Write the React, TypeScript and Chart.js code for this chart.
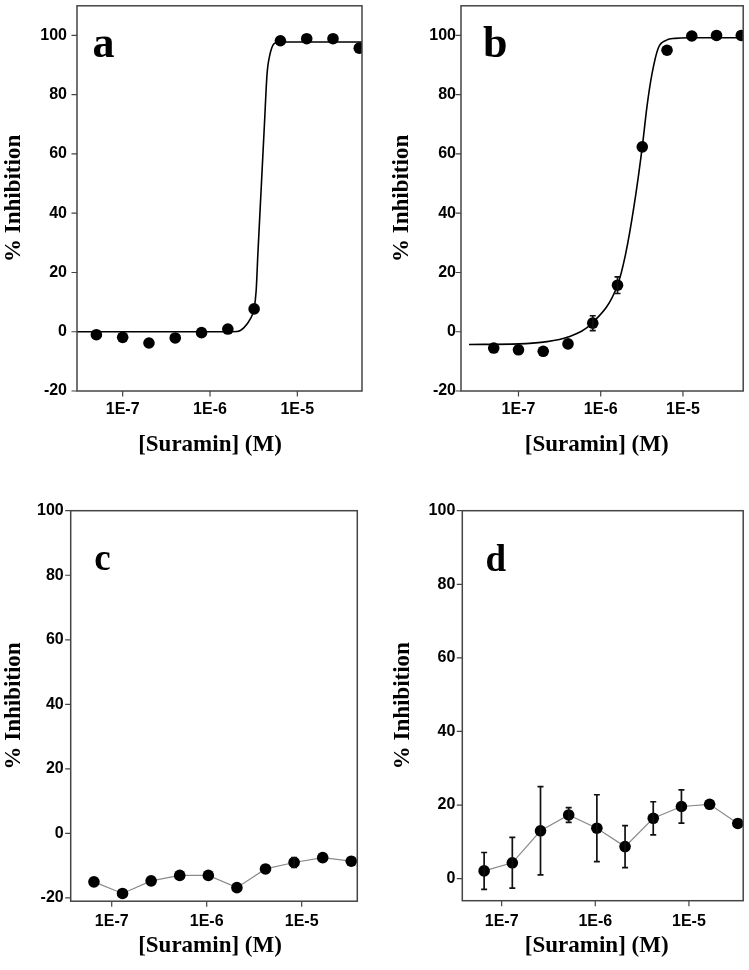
import React, { useEffect, useRef } from 'react';
import { Chart, registerables } from 'chart.js';

Chart.register(...registerables);

// ---------- data ----------
const CONC_AB = [5e-8, 1e-7, 2e-7, 4e-7, 8e-7, 1.6e-6, 3.2e-6, 6.4e-6, 1.28e-5, 2.56e-5, 5.12e-5];
const INHIB_A = [-1.0, -1.9, -3.8, -2.1, -0.3, 0.9, 7.7, 98.2, 98.9, 98.9, 95.7];
const ERR_A = [0, 0, 0, 0, 0, 0, 0, 0, 0, 0, 0];
const FIT_A_X = [3e-8, 1e-6, 2.05e-6, 2.45e-6, 2.85e-6, 3.2e-6, 3.38e-6, 3.53e-6, 3.85e-6, 4.2e-6, 4.5e-6, 4.85e-6, 5.4e-6, 6.1e-6, 5.5e-5];
const FIT_A_Y = [0, 0, 0.1, 1.4, 4, 7.9, 14, 26, 48, 70, 87, 93.5, 97.2, 97.8, 97.8];

const INHIB_B = [-5.5, -6.1, -6.6, -4.1, 2.9, 15.7, 62.4, 95.0, 99.8, 100, 100];
const ERR_B = [0, 0, 0, 0, 2.5, 2.8, 0, 0, 0, 0, 0];
const FIT_B_X = [2.5e-8, 1e-7, 2e-7, 4e-7, 8e-7, 1.6e-6, 2.0e-6, 2.55e-6, 3.2e-6, 3.65e-6, 4.2e-6, 5.0e-6, 6.3e-6, 8e-6, 1.2e-5, 5.4e-5];
const FIT_B_Y = [-4.3, -4.1, -3.5, -1.8, 3.1, 15.7, 26, 42.7, 62.4, 76, 87, 95.7, 98.4, 99, 99.2, 99.2];

const CONC_CD = [6.5e-8, 1.3e-7, 2.6e-7, 5.2e-7, 1.04e-6, 2.08e-6, 4.16e-6, 8.32e-6, 1.664e-5, 3.328e-5];
const INHIB_C = [-15.0, -18.6, -14.7, -13.0, -13.0, -16.8, -11.0, -9.0, -7.5, -8.6];
const ERR_C = [0, 0, 0, 0, 0, 0, 0, 1.5, 0, 0];
const INHIB_D = [2.1, 4.3, 13.0, 17.3, 13.7, 8.7, 16.4, 19.6, 20.2, 15.0];
const ERR_D = [5.0, 6.9, 12.0, 2.0, 9.1, 5.7, 4.5, 4.5, 0, 0];

const X_MAJOR = [1e-7, 1e-6, 1e-5];
const X_TICK_LABELS = ['1E-7', '1E-6', '1E-5'];
const Y_MAJOR = [-20, 0, 20, 40, 60, 80, 100];
const Y_TICK_LABELS = ['-20', '0', '20', '40', '60', '80', '100'];

const X_TITLE = '[Suramin] (M)';
const Y_TITLE = '% Inhibition';
const PANEL_LETTERS = ['a', 'b', 'c', 'd'];

// ---------- layout / style ----------
type Panel = {
  letter: string;
  x: number[];
  y: number[];
  err: number[];
  fitX?: number[];
  fitY?: number[];
  connect: boolean;
  xMin: number; xMax: number; yMin: number; yMax: number;
  left: number; top: number; W: number; H: number;
  area: { left: number; top: number; right: number; bottom: number };
  xTickPad: number; yTickPad: number; tickSize: number;
  yTitleBase: number; xTitleCx: number; xTitleBase: number;
  letterCx: number; letterBase: number; letterSize: number;
};

const PANELS: Panel[] = [
  {
    letter: PANEL_LETTERS[0], x: CONC_AB, y: INHIB_A, err: ERR_A, fitX: FIT_A_X, fitY: FIT_A_Y, connect: false,
    xMin: 3e-8, xMax: 5.5e-5, yMin: -20, yMax: 110,
    left: 0, top: 0, W: 375, H: 470,
    area: { left: 77, top: 2, right: 362, bottom: 391 },
    xTickPad: 9, yTickPad: 10, tickSize: 16,
    yTitleBase: 19.5, xTitleCx: 210, xTitleBase: 451,
    letterCx: 103.5, letterBase: 57, letterSize: 44,
  },
  {
    letter: PANEL_LETTERS[1], x: CONC_AB, y: INHIB_B, err: ERR_B, fitX: FIT_B_X, fitY: FIT_B_Y, connect: false,
    xMin: 2e-8, xMax: 5.4e-5, yMin: -20, yMax: 110,
    left: 375, top: 0, W: 374, H: 470,
    area: { left: 86, top: 2, right: 371.7, bottom: 391 },
    xTickPad: 9, yTickPad: 5, tickSize: 16,
    yTitleBase: 33, xTitleCx: 221.7, xTitleBase: 451,
    letterCx: 120.3, letterBase: 57, letterSize: 44,
  },
  {
    letter: PANEL_LETTERS[2], x: CONC_CD, y: INHIB_C, err: ERR_C, connect: true,
    xMin: 3.7e-8, xMax: 3.85e-5, yMin: -21, yMax: 100,
    left: 0, top: 470, W: 375, H: 500,
    area: { left: 70.7, top: 40.7, right: 357.3, bottom: 431.2 },
    xTickPad: 11, yTickPad: 7, tickSize: 16,
    yTitleBase: 19.5, xTitleCx: 210, xTitleBase: 482,
    letterCx: 102.5, letterBase: 100, letterSize: 37,
  },
  {
    letter: PANEL_LETTERS[3], x: CONC_CD, y: INHIB_D, err: ERR_D, connect: true,
    xMin: 3.8e-8, xMax: 3.8e-5, yMin: -6, yMax: 100,
    left: 375, top: 470, W: 374, H: 500,
    area: { left: 87.3, top: 40.7, right: 372.3, bottom: 430.7 },
    xTickPad: 11, yTickPad: 7, tickSize: 16,
    yTitleBase: 34, xTitleCx: 221.7, xTitleBase: 482,
    letterCx: 120.8, letterBase: 101, letterSize: 37,
  },
];

const SANS = '"Liberation Sans", Arial, sans-serif';
const SERIF = '"Liberation Serif", "Times New Roman", serif';
const FRAME = '#444444';

const near = (a: number, b: number) => Math.abs(a - b) <= Math.abs(b) * 1e-6 + 1e-12;

function xTickValues(min: number, max: number): number[] {
  const out: number[] = [];
  const k0 = Math.floor(Math.log10(min));
  const k1 = Math.ceil(Math.log10(max));
  for (let k = k0; k <= k1; k++) {
    const base = Math.pow(10, k);
    for (let m = 1; m <= 9; m++) {
      const v = m * base;
      if (v >= min * (1 - 1e-9) && v <= max * (1 + 1e-9)) out.push(v);
    }
  }
  return out;
}

function yTickValues(min: number, max: number): number[] {
  const out: number[] = [];
  for (let v = Math.ceil(min / 10) * 10; v <= max + 1e-9; v += 10) out.push(v);
  return out;
}

function makeDecor(p: Panel) {
  return {
    id: 'decor' + p.letter,
    afterDatasetsDraw(chart: any) {
      const { ctx } = chart;
      const xs = chart.scales.x;
      const ys = chart.scales.y;
      ctx.save();
      ctx.strokeStyle = '#111';
      ctx.lineWidth = 1.7;
      p.x.forEach((xv, i) => {
        const e = p.err[i];
        if (!e) return;
        const px = xs.getPixelForValue(xv);
        const t = ys.getPixelForValue(p.y[i] + e);
        const b = ys.getPixelForValue(p.y[i] - e);
        ctx.beginPath();
        ctx.moveTo(px, t); ctx.lineTo(px, b);
        ctx.moveTo(px - 3, t); ctx.lineTo(px + 3, t);
        ctx.moveTo(px - 3, b); ctx.lineTo(px + 3, b);
        ctx.stroke();
      });
      ctx.restore();
    },
    afterDraw(chart: any) {
      const { ctx, chartArea: a } = chart;
      const xs = chart.scales.x;
      const ys = chart.scales.y;
      ctx.save();
      // tick marks
      ctx.strokeStyle = FRAME;
      ctx.lineWidth = 1.2;
      ctx.beginPath();
      xs.ticks.forEach((t: any) => {
        const px = xs.getPixelForValue(t.value);
        const major = X_MAJOR.some((m) => near(t.value, m));
        ctx.moveTo(px, a.bottom);
        ctx.lineTo(px, a.bottom + (major ? 5.5 : 3));
      });
      ys.ticks.forEach((t: any) => {
        const py = ys.getPixelForValue(t.value);
        const major = Y_MAJOR.some((m) => near(t.value, m));
        ctx.moveTo(a.left, py);
        ctx.lineTo(a.left - (major ? 5.5 : 3), py);
      });
      ctx.stroke();
      // frame
      ctx.lineWidth = 1.5;
      ctx.strokeRect(a.left, a.top, a.right - a.left, a.bottom - a.top);
      // axis titles
      ctx.fillStyle = '#000';
      ctx.font = `bold 23px ${SERIF}`;
      ctx.textAlign = 'center';
      ctx.textBaseline = 'alphabetic';
      ctx.fillText(X_TITLE, p.xTitleCx, p.xTitleBase);
      ctx.save();
      ctx.translate(p.yTitleBase, (a.top + a.bottom) / 2);
      ctx.rotate(-Math.PI / 2);
      ctx.fillText(Y_TITLE, 0, 0);
      ctx.restore();
      // panel letter
      ctx.font = `bold ${p.letterSize}px ${SERIF}`;
      ctx.fillText(p.letter, p.letterCx, p.letterBase);
      ctx.restore();
    },
  };
}

function buildChart(canvas: HTMLCanvasElement, p: Panel) {
  const datasets: any[] = [
    {
      data: p.x.map((x, i) => ({ x, y: p.y[i] })),
      showLine: p.connect,
      borderColor: '#8a8a8a',
      borderWidth: 1.2,
      pointRadius: 5.8,
      pointBackgroundColor: '#000',
      pointBorderColor: '#000',
      pointBorderWidth: 0,
      clip: 0,
    },
  ];
  if (p.fitX && p.fitY) {
    const fy = p.fitY;
    datasets.push({
      data: p.fitX.map((x, i) => ({ x, y: fy[i] })),
      showLine: true,
      borderColor: '#000',
      borderWidth: 1.6,
      pointRadius: 0,
      cubicInterpolationMode: 'monotone',
      clip: 0,
    });
  }
  const tickFont = { family: SANS, weight: 'bold' as const, size: p.tickSize };
  return new Chart(canvas, {
    type: 'scatter',
    data: { datasets },
    options: {
      animation: false,
      responsive: false,
      devicePixelRatio: 1,
      events: [],
      layout: { padding: { left: 0, top: p.area.top, right: p.W - p.area.right, bottom: 0 } },
      plugins: { legend: { display: false }, tooltip: { enabled: false } },
      scales: {
        x: {
          type: 'logarithmic',
          min: p.xMin,
          max: p.xMax,
          grid: { display: false, drawTicks: false, tickLength: 0 },
          border: { display: false },
          ticks: {
            autoSkip: false,
            maxRotation: 0,
            minRotation: 0,
            padding: p.xTickPad,
            color: '#000',
            font: tickFont,
            callback: (v: any) => {
              const i = X_MAJOR.findIndex((m) => near(Number(v), m));
              return i >= 0 ? X_TICK_LABELS[i] : null;
            },
          },
          afterBuildTicks: (s: any) => {
            s.ticks = xTickValues(p.xMin, p.xMax).map((value) => ({ value }));
          },
          afterFit: (s: any) => {
            s.height = p.H - p.area.bottom;
            s.paddingLeft = 0;
            s.paddingRight = 0;
          },
        },
        y: {
          type: 'linear',
          min: p.yMin,
          max: p.yMax,
          grid: { display: false, drawTicks: false, tickLength: 0 },
          border: { display: false },
          ticks: {
            autoSkip: false,
            padding: p.yTickPad,
            color: '#000',
            font: tickFont,
            callback: (v: any) => {
              const i = Y_MAJOR.findIndex((m) => near(Number(v), m));
              return i >= 0 ? Y_TICK_LABELS[i] : null;
            },
          },
          afterBuildTicks: (s: any) => {
            s.ticks = yTickValues(p.yMin, p.yMax).map((value) => ({ value }));
          },
          afterFit: (s: any) => {
            s.width = p.area.left;
            s.paddingTop = 0;
            s.paddingBottom = 0;
          },
        },
      },
    } as any,
    plugins: [makeDecor(p)],
  });
}

function PanelChart({ p }: { p: Panel }) {
  const ref = useRef<HTMLCanvasElement | null>(null);
  useEffect(() => {
    if (!ref.current) return;
    const chart = buildChart(ref.current, p);
    return () => chart.destroy();
  }, [p]);
  return (
    <canvas
      ref={ref}
      width={p.W}
      height={p.H}
      style={{ position: 'absolute', left: p.left, top: p.top, width: p.W, height: p.H }}
    />
  );
}

export default function App() {
  return (
    <div style={{ position: 'absolute', left: 0, top: 0, width: 749, height: 970, background: '#fff' }}>
      {PANELS.map((p) => (
        <PanelChart key={p.letter} p={p} />
      ))}
    </div>
  );
}
